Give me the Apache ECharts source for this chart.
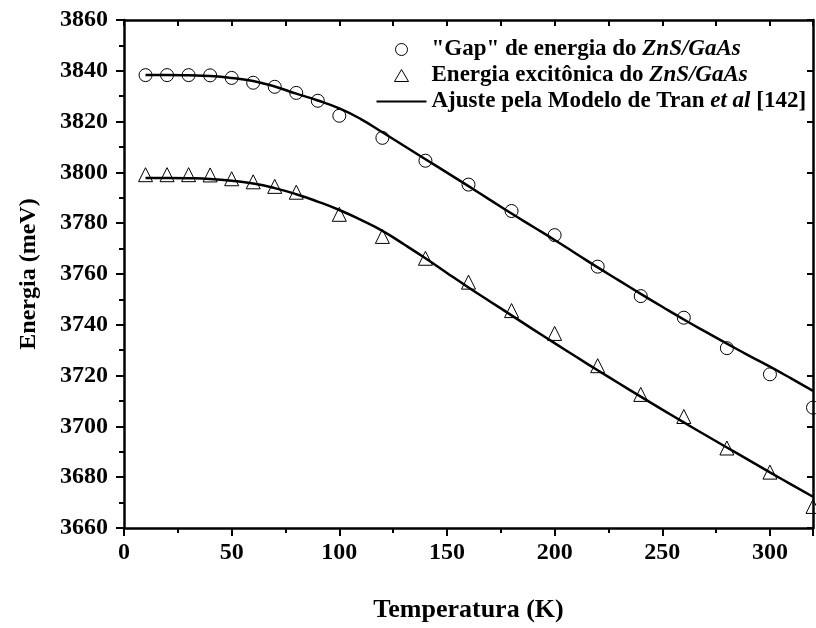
<!DOCTYPE html>
<html>
<head>
<meta charset="utf-8">
<script src="https://cdn.jsdelivr.net/npm/echarts@6/dist/echarts.min.js"></script>
<style>html,body{margin:0;padding:0;background:#fff}#c{width:816px;height:628px}</style>
</head>
<body>
<div id="c"></div>
<script>
// Data
var gapT = [10,20,30,40,50,60,70,80,90,100,120,140,160,180,200,220,240,260,280,300,320];
var gapE = [3838.3,3838.3,3838.3,3838.2,3837.2,3835.3,3833.7,3831.3,3828.2,3822.3,3813.6,3804.6,3795.2,3784.8,3775.3,3762.9,3751.3,3742.8,3730.8,3720.5,3707.4];
var excT = [10,20,30,40,50,60,70,80,100,120,140,160,180,200,220,240,260,280,300,320];
var excE = [3799.1,3799.1,3799.1,3799.0,3797.5,3796.3,3794.5,3792.2,3783.5,3774.8,3766.2,3756.8,3745.6,3736.6,3723.9,3712.6,3703.9,3691.5,3682.0,3668.5];
var fitT = [10,20,30,40,50,60,70,80,90,100,110,120,130,140,150,160,170,180,190,200,210,220,230,240,250,260,270,280,290,300,310,320];
var fitGap = [3838.3,3838.3,3838.2,3838.0,3837.2,3836.0,3833.8,3831.0,3828.3,3825.2,3821.0,3815.8,3810.5,3805.2,3799.9,3794.6,3789.2,3783.8,3778.6,3773.4,3768.0,3762.6,3757.4,3752.2,3747.1,3742.1,3737.3,3732.6,3728.0,3723.5,3718.8,3714.0];
var fitExc = [3797.8,3797.8,3797.7,3797.4,3796.7,3795.6,3793.8,3791.4,3788.5,3785.2,3781.3,3777.0,3771.7,3766.2,3760.4,3754.7,3749.2,3743.7,3738.2,3732.8,3727.4,3722.1,3716.9,3711.7,3706.6,3701.6,3696.6,3691.7,3686.8,3681.9,3677.1,3672.3];
var xTicks = [0,50,100,150,200,250,300];
var yTicks = [3660,3680,3700,3720,3740,3760,3780,3800,3820,3840,3860];
var names = ['"Gap" de energia do ZnS/GaAs','Energia excitônica do ZnS/GaAs','Ajuste pela Modelo de Tran et al [142]'];

function zip(a,b){return a.map(function(v,i){return [v,b[i]];});}
var serif = '"Liberation Serif","DejaVu Serif",serif';
var lineCol = '#000';

var chart = echarts.init(document.getElementById('c'));
chart.setOption({
  animation:false,
  backgroundColor:'#fff',
  grid:{left:124,right:3,top:20,bottom:100,containLabel:false},
  legend:{
    left:371, top:33, orient:'vertical', align:'left', padding:5,
    itemWidth:50, itemHeight:12, itemGap:3, symbolKeepAspect:true,
    data:[
      {name:names[0], icon:'path://M0,0 M50,12 M31.5,6 A6.5,6.5 0 1 1 18.5,6 A6.5,6.5 0 1 1 31.5,6 Z',
       itemStyle:{color:'rgba(0,0,0,0)',borderColor:'#000',borderWidth:1}},
      {name:names[1], icon:'path://M0,0 M50,12 M18,12 L25,0 L32,12 Z',
       itemStyle:{color:'rgba(0,0,0,0)',borderColor:'#000',borderWidth:1}},
      {name:names[2], icon:'path://M0,0 M50,12 M0,5 L50,5 L50,7 L0,7 Z',
       itemStyle:{color:'#000',borderWidth:0}}
    ],
    formatter:function(n){
      if(n===names[0]) return '{b|"Gap" de energia do }{i|ZnS/GaAs}';
      if(n===names[1]) return '{b|Energia excitônica do }{i|ZnS/GaAs}';
      return '{b|Ajuste pela Modelo de Tran }{i|et al}{b| [142]}';
    },
    textStyle:{
      color:'#000', fontFamily:serif, fontSize:23, fontWeight:'bold', lineHeight:20,
      rich:{
        b:{fontFamily:serif,fontSize:23,fontWeight:'bold',color:'#000',lineHeight:20},
        i:{fontFamily:serif,fontSize:23,fontWeight:'bold',fontStyle:'italic',color:'#000',lineHeight:20}
      }
    }
  },
  xAxis:[{
    type:'value', min:0, max:320, interval:50, position:'bottom',
    name:'Temperatura (K)', nameLocation:'middle', nameGap:69,
    nameTextStyle:{fontFamily:serif,fontSize:26,fontWeight:'bold',color:'#000'},
    axisLine:{show:true,onZero:false,lineStyle:{color:lineCol,width:2.5}},
    axisTick:{show:true,inside:false,length:8,lineStyle:{color:lineCol,width:2}},
    minorTick:{show:true,splitNumber:2,length:5,lineStyle:{color:lineCol,width:2}},
    axisLabel:{margin:13,fontFamily:serif,fontSize:24,fontWeight:'bold',color:'#000',
      formatter:function(v){return xTicks.indexOf(v)>=0?String(v):'';}, showMaxLabel:false},
    splitLine:{show:false}
  },{
    type:'value', min:0, max:320, interval:25, position:'top',
    axisLine:{show:true,onZero:false,lineStyle:{color:lineCol,width:2.5}},
    axisTick:{show:true,inside:true,length:6,lineStyle:{color:lineCol,width:2}},
    axisLabel:{show:false}, splitLine:{show:false}
  }],
  yAxis:[{
    type:'value', min:3660, max:3860, interval:20, position:'left',
    name:'Energia (meV)', nameLocation:'middle', nameGap:83, nameRotate:90,
    nameTextStyle:{fontFamily:serif,fontSize:24,fontWeight:'bold',color:'#000'},
    axisLine:{show:true,onZero:false,lineStyle:{color:lineCol,width:2.5}},
    axisTick:{show:true,inside:false,length:8,lineStyle:{color:lineCol,width:2}},
    minorTick:{show:true,splitNumber:2,length:5,lineStyle:{color:lineCol,width:2}},
    axisLabel:{margin:16,fontFamily:serif,fontSize:24,fontWeight:'bold',color:'#000',
      formatter:function(v){return yTicks.indexOf(v)>=0?String(v):'';}},
    splitLine:{show:false}
  },{
    type:'value', min:3660, max:3860, interval:20, position:'right',
    axisLine:{show:true,onZero:false,lineStyle:{color:lineCol,width:2.5}},
    axisTick:{show:true,inside:true,length:6,lineStyle:{color:lineCol,width:2}},
    axisLabel:{show:false}, splitLine:{show:false}
  }],
  series:[
    {name:names[2], type:'line', data:zip(fitT,fitGap), smooth:true, symbol:'none', showSymbol:false,
     lineStyle:{color:'#000',width:2.5}, itemStyle:{color:'#000'}, z:2},
    {name:names[2], type:'line', data:zip(fitT,fitExc), smooth:true, symbol:'none', showSymbol:false,
     lineStyle:{color:'#000',width:2.5}, itemStyle:{color:'#000'}, z:2},
    {name:names[0], type:'scatter', data:zip(gapT,gapE), symbol:'circle', symbolSize:13,
     itemStyle:{color:'rgba(0,0,0,0)',borderColor:'#000',borderWidth:1,opacity:1}, z:3},
    {name:names[1], type:'scatter', data:zip(excT,excE), symbol:'triangle', symbolSize:14,
     itemStyle:{color:'rgba(0,0,0,0)',borderColor:'#000',borderWidth:1,opacity:1}, z:3}
  ]
});
</script>
</body>
</html>
